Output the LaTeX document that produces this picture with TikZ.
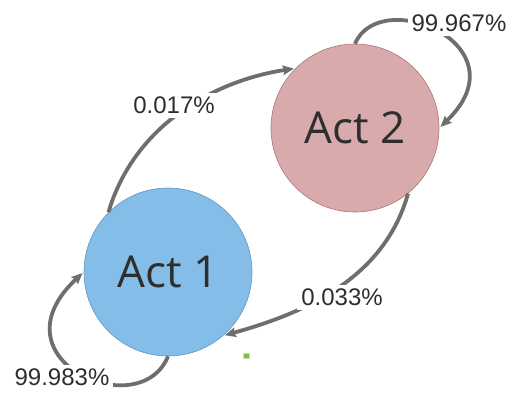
\documentclass[tikz,border=0pt]{standalone}
\usepackage{fontspec}
\usepackage{tikz}
\usetikzlibrary{arrows.meta}
\newfontfamily\actfont{Open Sans}
\newfontfamily\pctfont{Liberation Sans}
\definecolor{actblue}{HTML}{85BDE9}
\definecolor{actblueline}{HTML}{5F93C4}
\definecolor{actrose}{HTML}{D9AAAC}
\definecolor{actroseline}{HTML}{B07478}
\definecolor{arrowgray}{HTML}{6E6E6E}
\definecolor{textdark}{HTML}{2E2E2E}
\definecolor{icongreen}{HTML}{7DC142}

\begin{document}
\begin{tikzpicture}[x=1pt,y=-1pt,
  state/.style={circle,minimum size=168pt,inner sep=0pt,line width=0.6pt,
    text=textdark,font=\actfont\fontsize{44}{50}\selectfont},
  pct/.style={fill=white,inner sep=4pt,text=textdark,
    font=\pctfont\fontsize{24}{28}\selectfont},
  arr/.style={-{Stealth[length=11pt,width=9.5pt,inset=1.5pt]},line width=3.8pt,
    draw=arrowgray,shorten >=1.5pt}]

  \useasboundingbox (0,0) rectangle (515,392);

  \node[state,draw=actblueline,fill=actblue] (act1) at (168,272) {Act 1};
  \node[state,draw=actroseline,fill=actrose] (act2) at (355,128) {Act 2};

  \draw[arr] (act1.135) .. controls +(26,-88) and +(-80,12) .. (act2.135);
  \draw[arr] (act2.309) .. controls +(-23,82) and +(87,-24) .. (act1.311);
  \draw[arr] (act2.90) .. controls +(25,-59) and +(86,-83) .. (act2.0);
  \draw[arr] (act1.270) .. controls +(-28,69) and +(-94,88) .. (act1.180);

  \node[pct] (p12) at (174,105) {0.017\%};
  \node[pct] (p21) at (342,297) {0.033\%};
  \node[pct] (p22) at (459,23) {99.967\%};
  \node[pct] (p11) at (62,377) {99.983\%};

  \node[draw=icongreen!45,fill=icongreen,minimum width=6pt,minimum height=5pt,
    inner sep=0pt,line width=0.8pt] (marker) at (246,356) {};
\end{tikzpicture}
\end{document}
